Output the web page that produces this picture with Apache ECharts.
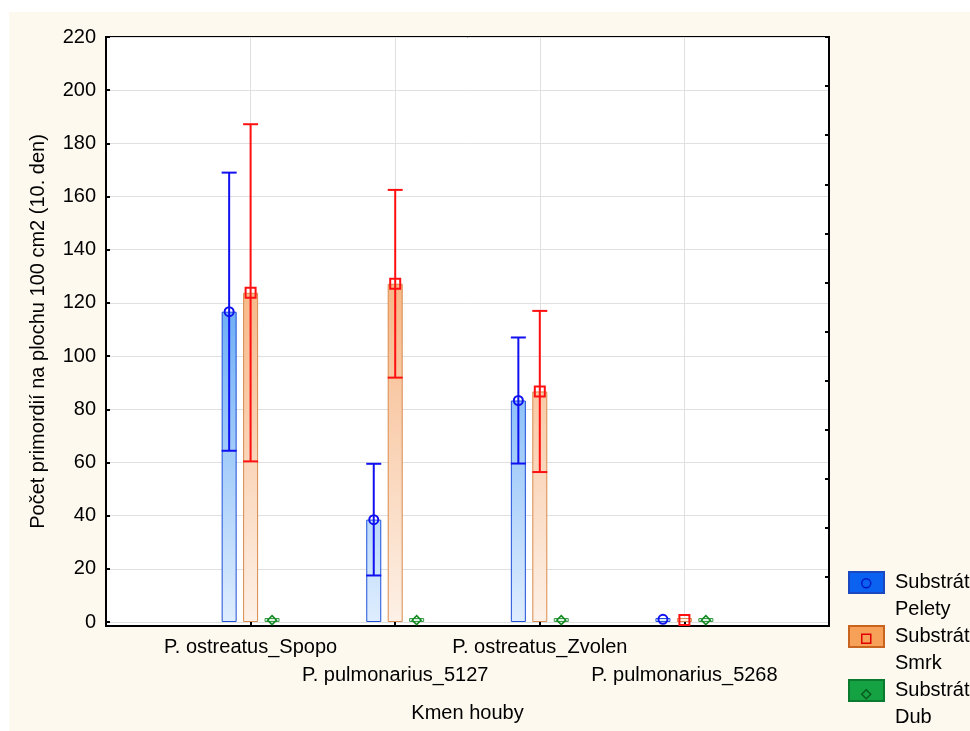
<!DOCTYPE html>
<html>
<head>
<meta charset="utf-8">
<script src="https://cdn.jsdelivr.net/npm/echarts@6/dist/echarts.min.js"></script>
<style>
  html, body { margin: 0; padding: 0; background: #fff; }
  #chart { width: 970px; height: 731px; }
</style>
</head>
<body>
<div id="chart"></div>
<script>
const categories = ['P. ostreatus_Spopo', 'P. pulmonarius_5127', 'P. ostreatus_Zvolen', 'P. pulmonarius_5268'];
const substrates = ['Pelety', 'Smrk', 'Dub'];
const peletyMean = [116.7, 38.5, 83.3, 1.0];
const peletyErr = [52.3, 21.0, 23.7, 0];
const smrkMean = [123.8, 127.2, 86.7, 0.8];
const smrkErr = [63.4, 35.3, 30.3, 0];
const dubMean = [0.7, 0.7, 0.7, 0.7];
const dubErr = [0, 0, 0, 0];
const yTicks = [0, 20, 40, 60, 80, 100, 120, 140, 160, 180, 200, 220];

const font = 'Liberation Sans, Arial, sans-serif';
const barW = 15;
const gapRatio = 0.43;
const step = barW * (1 + gapRatio);

const chart = echarts.init(document.getElementById('chart'));

// gradient over the whole plot height, like the original
function plotGradient(top, bottom) {
  return {
    type: 'linear', global: true, x: 0, y: 37, x2: 0, y2: 626,
    colorStops: [{ offset: 0, color: top }, { offset: 1, color: bottom }]
  };
}

function barSeries(name, means, top, bottom, border) {
  return {
    type: 'bar',
    name: name,
    data: means.map((v, i) => [i + 1, v]),
    barWidth: barW,
    barGap: gapRatio * 100 + '%',
    barMinHeight: 4,
    itemStyle: { color: plotGradient(top, bottom), borderColor: border, borderWidth: 1 },
    silent: true
  };
}

function errorSeries(name, means, errs, color, symbol, offset) {
  return {
    type: 'custom',
    name: name,
    z: 5,
    silent: true,
    data: means.map((m, i) => [i + 1, m, errs[i]]),
    renderItem: (params, api) => {
      const x = api.value(0);
      const m = api.value(1);
      const e = api.value(2);
      const c = api.coord([x, m]);
      const cx = c[0] + offset;
      const cy = c[1];
      const ls = { stroke: color, lineWidth: 2 };
      const children = [];
      if (e > 0) {
        const hi = api.coord([x, m + e])[1];
        const lo = api.coord([x, m - e])[1];
        children.push({ type: 'line', shape: { x1: cx, y1: hi, x2: cx, y2: lo }, style: ls });
        children.push({ type: 'line', shape: { x1: cx - barW / 2, y1: hi, x2: cx + barW / 2, y2: hi }, style: ls });
        children.push({ type: 'line', shape: { x1: cx - barW / 2, y1: lo, x2: cx + barW / 2, y2: lo }, style: ls });
      }
      const ms = { fill: 'none', stroke: color, lineWidth: 2 };
      if (symbol === 'circle') {
        children.push({ type: 'circle', shape: { cx: cx, cy: cy, r: 4.5 }, style: ms });
      } else if (symbol === 'rect') {
        children.push({ type: 'rect', shape: { x: cx - 5, y: cy - 5, width: 10, height: 10 }, style: ms });
      } else {
        children.push({ type: 'polygon', shape: { points: [[cx, cy - 4.5], [cx + 4.5, cy], [cx, cy + 4.5], [cx - 4.5, cy]] }, style: Object.assign({}, ms, { lineWidth: 1.5 }) });
      }
      return { type: 'group', children: children };
    }
  };
}

const option = {
  backgroundColor: '#fff',
  animation: false,
  textStyle: { fontFamily: font },
  graphic: [{
    type: 'rect', z: -1, silent: true,
    shape: { x: 9, y: 12, width: 961, height: 719 },
    style: { fill: '#fdf9ef' }
  }],
  grid: {
    left: 106, right: 141, top: 37, bottom: 105,
    show: true, backgroundColor: '#fff', borderColor: '#000', borderWidth: 2
  },
  legend: [{
    data: [
      { name: 'Pelety', icon: 'rect', itemStyle: { color: '#0b62f0', borderColor: '#1a48c0', borderWidth: 2 } },
      { name: 'Smrk', icon: 'rect', itemStyle: { color: '#f7a058', borderColor: '#c8641e', borderWidth: 2 } },
      { name: 'Dub', icon: 'rect', itemStyle: { color: '#14a243', borderColor: '#0a7a2e', borderWidth: 2 } }
    ],
    orient: 'vertical', left: 848, top: 542, padding: 0,
    itemWidth: 35, itemHeight: 21, itemGap: -27,
    selectedMode: false,
    formatter: n => '\nSubstrát\n' + n,
    textStyle: { fontSize: 20, lineHeight: 27, color: '#000', padding: [0, 0, 0, 6], fontFamily: font }
  }, {
    data: [
      { name: 'Pelety', icon: 'circle', itemStyle: { color: 'rgba(0,0,0,0)', borderColor: '#0018c8', borderWidth: 1.5 } },
      { name: 'Smrk', icon: 'rect', itemStyle: { color: 'rgba(0,0,0,0)', borderColor: '#e00000', borderWidth: 1.5 } },
      { name: 'Dub', icon: 'diamond', itemStyle: { color: 'rgba(0,0,0,0)', borderColor: '#0a5a20', borderWidth: 1.5 } }
    ],
    orient: 'vertical', left: 861, top: 578, padding: 0,
    itemWidth: 9, itemHeight: 9, itemGap: 45,
    selectedMode: false,
    formatter: () => '',
    textStyle: { fontSize: 1, lineHeight: 1 }
  }],
  xAxis: {
    type: 'category',
    data: [''].concat(categories, ['']),
    boundaryGap: false,
    axisLine: { onZero: false, lineStyle: { color: '#000', width: 2 } },
    axisTick: { inside: true, length: 4, interval: 0, lineStyle: { color: '#000', width: 2 } },
    axisLabel: {
      interval: 0, fontSize: 20, lineHeight: 28, margin: 7, color: '#000',
      formatter: (v, i) => (i % 2 === 0 ? '\n' : '') + v
    },
    splitLine: { show: true, interval: 0, lineStyle: { color: '#e0e0e0', width: 1 } },
    name: 'Kmen houby', nameLocation: 'middle', nameGap: 77,
    nameTextStyle: { fontSize: 20, color: '#000' }
  },
  yAxis: [{
    type: 'value', min: -1.5, max: 220,
    axisLine: { show: true, lineStyle: { color: '#000', width: 2 } },
    axisTick: { show: true, inside: true, length: 4, customValues: yTicks, lineStyle: { color: '#000', width: 2 } },
    axisLabel: { customValues: yTicks, fontSize: 20, color: '#000', margin: 10 },
    splitLine: { show: true, lineStyle: { color: '#e0e0e0', width: 1 } },
    name: 'Počet primordií na plochu 100 cm2 (10. den)', nameLocation: 'middle', nameGap: 58,
    nameTextStyle: { fontSize: 20, color: '#000' }
  }, {
    type: 'value', position: 'right', min: 0, max: 12, interval: 1,
    axisLine: { show: true, lineStyle: { color: '#000', width: 2 } },
    axisTick: { show: true, inside: true, length: 4, lineStyle: { color: '#000', width: 2 } },
    axisLabel: { show: false },
    splitLine: { show: false }
  }],
  series: [
    barSeries('Pelety', peletyMean, '#0d79ef', '#e0eefe', '#1f4fd8'),
    barSeries('Smrk', smrkMean, '#f28e42', '#fdf1e8', '#d98a4c'),
    barSeries('Dub', dubMean, '#3fb060', '#e2f5e6', '#3a9a4a'),
    errorSeries('Pelety', peletyMean, peletyErr, '#1010f0', 'circle', -step),
    errorSeries('Smrk', smrkMean, smrkErr, '#ff1010', 'rect', 0),
    errorSeries('Dub', dubMean, dubErr, '#108a20', 'diamond', step)
  ]
};

chart.setOption(option);
</script>
</body>
</html>
